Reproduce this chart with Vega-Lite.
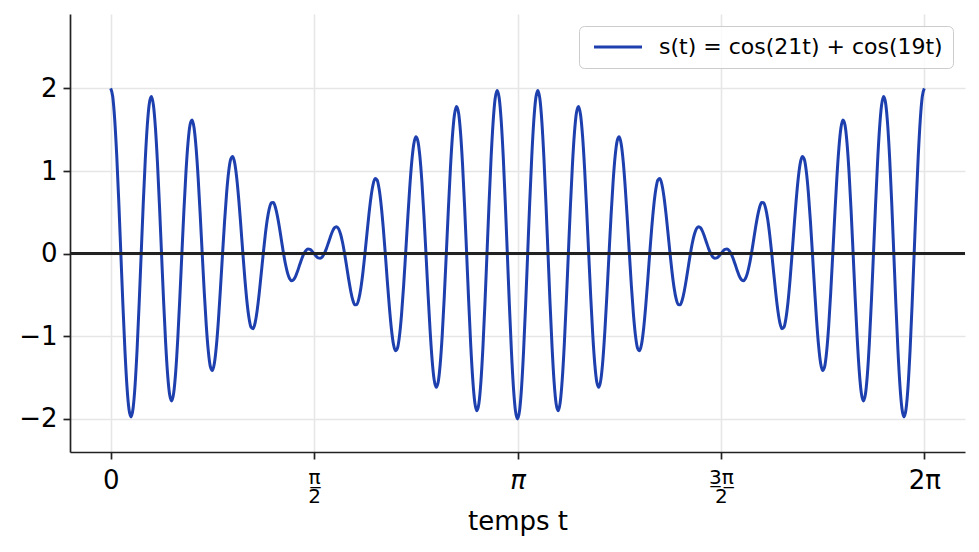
{
  "$schema": "https://vega.github.io/schema/vega-lite/v6.json",
  "description": "s(t) = cos(21t) + cos(19t) over one period, t stored in multiples of pi",
  "width": 895,
  "height": 438,
  "autosize": {"type": "none"},
  "padding": {"left": 70, "top": 14, "right": 14, "bottom": 100},
  "background": "white",
  "config": {
    "view": {"stroke": null},
    "font": "DejaVu Sans",
    "axis": {
      "domainColor": "#222222",
      "domainWidth": 1.7,
      "tickColor": "#222222",
      "tickWidth": 1.7,
      "tickSize": 7,
      "gridColor": "#e6e6e6",
      "gridWidth": 1.6,
      "labelFont": "DejaVu Sans",
      "labelColor": "#000000",
      "labelFontSize": 26,
      "titleFont": "DejaVu Sans",
      "titleFontSize": 26,
      "titleFontWeight": "normal",
      "titleColor": "#000000"
    }
  },
  "data": {
    "values": [
      {"tpi":0,"s":2},{"tpi":0.005,"s":1.902},{"tpi":0.01,"s":1.617},{"tpi":0.015,"s":1.174},{"tpi":0.02,"s":0.617},
      {"tpi":0.025,"s":0},{"tpi":0.03,"s":-0.615},{"tpi":0.035,"s":-1.168},{"tpi":0.04,"s":-1.605},{"tpi":0.045,"s":-1.883},
      {"tpi":0.05,"s":-1.975},{"tpi":0.055,"s":-1.874},{"tpi":0.06,"s":-1.589},{"tpi":0.065,"s":-1.151},{"tpi":0.07,"s":-0.603},
      {"tpi":0.075,"s":0},{"tpi":0.08,"s":0.599},{"tpi":0.085,"s":1.134},{"tpi":0.09,"s":1.554},{"tpi":0.095,"s":1.818},
      {"tpi":0.1,"s":1.902},{"tpi":0.105,"s":1.8},{"tpi":0.11,"s":1.522},{"tpi":0.115,"s":1.1},{"tpi":0.12,"s":0.575},
      {"tpi":0.125,"s":0},{"tpi":0.13,"s":-0.567},{"tpi":0.135,"s":-1.071},{"tpi":0.14,"s":-1.464},{"tpi":0.145,"s":-1.708},
      {"tpi":0.15,"s":-1.782},{"tpi":0.155,"s":-1.681},{"tpi":0.16,"s":-1.418},{"tpi":0.165,"s":-1.021},{"tpi":0.17,"s":-0.532},
      {"tpi":0.175,"s":0},{"tpi":0.18,"s":0.522},{"tpi":0.185,"s":0.983},{"tpi":0.19,"s":1.338},{"tpi":0.195,"s":1.556},
      {"tpi":0.2,"s":1.618},{"tpi":0.205,"s":1.521},{"tpi":0.21,"s":1.278},{"tpi":0.215,"s":0.917},{"tpi":0.22,"s":0.476},
      {"tpi":0.225,"s":0},{"tpi":0.23,"s":-0.464},{"tpi":0.235,"s":-0.87},{"tpi":0.24,"s":-1.179},{"tpi":0.245,"s":-1.366},
      {"tpi":0.25,"s":-1.414},{"tpi":0.255,"s":-1.324},{"tpi":0.26,"s":-1.108},{"tpi":0.265,"s":-0.791},{"tpi":0.27,"s":-0.409},
      {"tpi":0.275,"s":0},{"tpi":0.28,"s":0.394},{"tpi":0.285,"s":0.735},{"tpi":0.29,"s":0.992},{"tpi":0.295,"s":1.142},
      {"tpi":0.3,"s":1.176},{"tpi":0.305,"s":1.094},{"tpi":0.31,"s":0.909},{"tpi":0.315,"s":0.645},{"tpi":0.32,"s":0.331},
      {"tpi":0.325,"s":0},{"tpi":0.33,"s":-0.315},{"tpi":0.335,"s":-0.582},{"tpi":0.34,"s":-0.779},{"tpi":0.345,"s":-0.89},
      {"tpi":0.35,"s":-0.908},{"tpi":0.355,"s":-0.837},{"tpi":0.36,"s":-0.689},{"tpi":0.365,"s":-0.484},{"tpi":0.37,"s":-0.245},
      {"tpi":0.375,"s":0},{"tpi":0.38,"s":0.228},{"tpi":0.385,"s":0.416},{"tpi":0.39,"s":0.548},{"tpi":0.395,"s":0.616},
      {"tpi":0.4,"s":0.618},{"tpi":0.405,"s":0.559},{"tpi":0.41,"s":0.451},{"tpi":0.415,"s":0.31},{"tpi":0.42,"s":0.154},
      {"tpi":0.425,"s":0},{"tpi":0.43,"s":-0.135},{"tpi":0.435,"s":-0.238},{"tpi":0.44,"s":-0.303},{"tpi":0.445,"s":-0.327},
      {"tpi":0.45,"s":-0.313},{"tpi":0.455,"s":-0.268},{"tpi":0.46,"s":-0.203},{"tpi":0.465,"s":-0.129},{"tpi":0.47,"s":-0.058},
      {"tpi":0.475,"s":0},{"tpi":0.48,"s":0.039},{"tpi":0.485,"s":0.055},{"tpi":0.49,"s":0.051},{"tpi":0.495,"s":0.03},
      {"tpi":0.5,"s":0},{"tpi":0.505,"s":-0.03},{"tpi":0.51,"s":-0.051},{"tpi":0.515,"s":-0.055},{"tpi":0.52,"s":-0.039},
      {"tpi":0.525,"s":0},{"tpi":0.53,"s":0.058},{"tpi":0.535,"s":0.129},{"tpi":0.54,"s":0.203},{"tpi":0.545,"s":0.268},
      {"tpi":0.55,"s":0.313},{"tpi":0.555,"s":0.327},{"tpi":0.56,"s":0.303},{"tpi":0.565,"s":0.238},{"tpi":0.57,"s":0.135},
      {"tpi":0.575,"s":0},{"tpi":0.58,"s":-0.154},{"tpi":0.585,"s":-0.31},{"tpi":0.59,"s":-0.451},{"tpi":0.595,"s":-0.559},
      {"tpi":0.6,"s":-0.618},{"tpi":0.605,"s":-0.616},{"tpi":0.61,"s":-0.548},{"tpi":0.615,"s":-0.416},{"tpi":0.62,"s":-0.228},
      {"tpi":0.625,"s":0},{"tpi":0.63,"s":0.245},{"tpi":0.635,"s":0.484},{"tpi":0.64,"s":0.689},{"tpi":0.645,"s":0.837},
      {"tpi":0.65,"s":0.908},{"tpi":0.655,"s":0.89},{"tpi":0.66,"s":0.779},{"tpi":0.665,"s":0.582},{"tpi":0.67,"s":0.315},
      {"tpi":0.675,"s":0},{"tpi":0.68,"s":-0.331},{"tpi":0.685,"s":-0.645},{"tpi":0.69,"s":-0.909},{"tpi":0.695,"s":-1.094},
      {"tpi":0.7,"s":-1.176},{"tpi":0.705,"s":-1.142},{"tpi":0.71,"s":-0.992},{"tpi":0.715,"s":-0.735},{"tpi":0.72,"s":-0.394},
      {"tpi":0.725,"s":0},{"tpi":0.73,"s":0.409},{"tpi":0.735,"s":0.791},{"tpi":0.74,"s":1.108},{"tpi":0.745,"s":1.324},
      {"tpi":0.75,"s":1.414},{"tpi":0.755,"s":1.366},{"tpi":0.76,"s":1.179},{"tpi":0.765,"s":0.87},{"tpi":0.77,"s":0.464},
      {"tpi":0.775,"s":0},{"tpi":0.78,"s":-0.476},{"tpi":0.785,"s":-0.917},{"tpi":0.79,"s":-1.278},{"tpi":0.795,"s":-1.521},
      {"tpi":0.8,"s":-1.618},{"tpi":0.805,"s":-1.556},{"tpi":0.81,"s":-1.338},{"tpi":0.815,"s":-0.983},{"tpi":0.82,"s":-0.522},
      {"tpi":0.825,"s":0},{"tpi":0.83,"s":0.532},{"tpi":0.835,"s":1.021},{"tpi":0.84,"s":1.418},{"tpi":0.845,"s":1.681},
      {"tpi":0.85,"s":1.782},{"tpi":0.855,"s":1.708},{"tpi":0.86,"s":1.464},{"tpi":0.865,"s":1.071},{"tpi":0.87,"s":0.567},
      {"tpi":0.875,"s":0},{"tpi":0.88,"s":-0.575},{"tpi":0.885,"s":-1.1},{"tpi":0.89,"s":-1.522},{"tpi":0.895,"s":-1.8},
      {"tpi":0.9,"s":-1.902},{"tpi":0.905,"s":-1.818},{"tpi":0.91,"s":-1.554},{"tpi":0.915,"s":-1.134},{"tpi":0.92,"s":-0.599},
      {"tpi":0.925,"s":0},{"tpi":0.93,"s":0.603},{"tpi":0.935,"s":1.151},{"tpi":0.94,"s":1.589},{"tpi":0.945,"s":1.874},
      {"tpi":0.95,"s":1.975},{"tpi":0.955,"s":1.883},{"tpi":0.96,"s":1.605},{"tpi":0.965,"s":1.168},{"tpi":0.97,"s":0.615},
      {"tpi":0.975,"s":0},{"tpi":0.98,"s":-0.617},{"tpi":0.985,"s":-1.174},{"tpi":0.99,"s":-1.617},{"tpi":0.995,"s":-1.902},
      {"tpi":1,"s":-2},{"tpi":1.005,"s":-1.902},{"tpi":1.01,"s":-1.617},{"tpi":1.015,"s":-1.174},{"tpi":1.02,"s":-0.617},
      {"tpi":1.025,"s":0},{"tpi":1.03,"s":0.615},{"tpi":1.035,"s":1.168},{"tpi":1.04,"s":1.605},{"tpi":1.045,"s":1.883},
      {"tpi":1.05,"s":1.975},{"tpi":1.055,"s":1.874},{"tpi":1.06,"s":1.589},{"tpi":1.065,"s":1.151},{"tpi":1.07,"s":0.603},
      {"tpi":1.075,"s":0},{"tpi":1.08,"s":-0.599},{"tpi":1.085,"s":-1.134},{"tpi":1.09,"s":-1.554},{"tpi":1.095,"s":-1.818},
      {"tpi":1.1,"s":-1.902},{"tpi":1.105,"s":-1.8},{"tpi":1.11,"s":-1.522},{"tpi":1.115,"s":-1.1},{"tpi":1.12,"s":-0.575},
      {"tpi":1.125,"s":0},{"tpi":1.13,"s":0.567},{"tpi":1.135,"s":1.071},{"tpi":1.14,"s":1.464},{"tpi":1.145,"s":1.708},
      {"tpi":1.15,"s":1.782},{"tpi":1.155,"s":1.681},{"tpi":1.16,"s":1.418},{"tpi":1.165,"s":1.021},{"tpi":1.17,"s":0.532},
      {"tpi":1.175,"s":0},{"tpi":1.18,"s":-0.522},{"tpi":1.185,"s":-0.983},{"tpi":1.19,"s":-1.338},{"tpi":1.195,"s":-1.556},
      {"tpi":1.2,"s":-1.618},{"tpi":1.205,"s":-1.521},{"tpi":1.21,"s":-1.278},{"tpi":1.215,"s":-0.917},{"tpi":1.22,"s":-0.476},
      {"tpi":1.225,"s":0},{"tpi":1.23,"s":0.464},{"tpi":1.235,"s":0.87},{"tpi":1.24,"s":1.179},{"tpi":1.245,"s":1.366},
      {"tpi":1.25,"s":1.414},{"tpi":1.255,"s":1.324},{"tpi":1.26,"s":1.108},{"tpi":1.265,"s":0.791},{"tpi":1.27,"s":0.409},
      {"tpi":1.275,"s":0},{"tpi":1.28,"s":-0.394},{"tpi":1.285,"s":-0.735},{"tpi":1.29,"s":-0.992},{"tpi":1.295,"s":-1.142},
      {"tpi":1.3,"s":-1.176},{"tpi":1.305,"s":-1.094},{"tpi":1.31,"s":-0.909},{"tpi":1.315,"s":-0.645},{"tpi":1.32,"s":-0.331},
      {"tpi":1.325,"s":0},{"tpi":1.33,"s":0.315},{"tpi":1.335,"s":0.582},{"tpi":1.34,"s":0.779},{"tpi":1.345,"s":0.89},
      {"tpi":1.35,"s":0.908},{"tpi":1.355,"s":0.837},{"tpi":1.36,"s":0.689},{"tpi":1.365,"s":0.484},{"tpi":1.37,"s":0.245},
      {"tpi":1.375,"s":0},{"tpi":1.38,"s":-0.228},{"tpi":1.385,"s":-0.416},{"tpi":1.39,"s":-0.548},{"tpi":1.395,"s":-0.616},
      {"tpi":1.4,"s":-0.618},{"tpi":1.405,"s":-0.559},{"tpi":1.41,"s":-0.451},{"tpi":1.415,"s":-0.31},{"tpi":1.42,"s":-0.154},
      {"tpi":1.425,"s":0},{"tpi":1.43,"s":0.135},{"tpi":1.435,"s":0.238},{"tpi":1.44,"s":0.303},{"tpi":1.445,"s":0.327},
      {"tpi":1.45,"s":0.313},{"tpi":1.455,"s":0.268},{"tpi":1.46,"s":0.203},{"tpi":1.465,"s":0.129},{"tpi":1.47,"s":0.058},
      {"tpi":1.475,"s":0},{"tpi":1.48,"s":-0.039},{"tpi":1.485,"s":-0.055},{"tpi":1.49,"s":-0.051},{"tpi":1.495,"s":-0.03},
      {"tpi":1.5,"s":0},{"tpi":1.505,"s":0.03},{"tpi":1.51,"s":0.051},{"tpi":1.515,"s":0.055},{"tpi":1.52,"s":0.039},
      {"tpi":1.525,"s":0},{"tpi":1.53,"s":-0.058},{"tpi":1.535,"s":-0.129},{"tpi":1.54,"s":-0.203},{"tpi":1.545,"s":-0.268},
      {"tpi":1.55,"s":-0.313},{"tpi":1.555,"s":-0.327},{"tpi":1.56,"s":-0.303},{"tpi":1.565,"s":-0.238},{"tpi":1.57,"s":-0.135},
      {"tpi":1.575,"s":0},{"tpi":1.58,"s":0.154},{"tpi":1.585,"s":0.31},{"tpi":1.59,"s":0.451},{"tpi":1.595,"s":0.559},
      {"tpi":1.6,"s":0.618},{"tpi":1.605,"s":0.616},{"tpi":1.61,"s":0.548},{"tpi":1.615,"s":0.416},{"tpi":1.62,"s":0.228},
      {"tpi":1.625,"s":0},{"tpi":1.63,"s":-0.245},{"tpi":1.635,"s":-0.484},{"tpi":1.64,"s":-0.689},{"tpi":1.645,"s":-0.837},
      {"tpi":1.65,"s":-0.908},{"tpi":1.655,"s":-0.89},{"tpi":1.66,"s":-0.779},{"tpi":1.665,"s":-0.582},{"tpi":1.67,"s":-0.315},
      {"tpi":1.675,"s":0},{"tpi":1.68,"s":0.331},{"tpi":1.685,"s":0.645},{"tpi":1.69,"s":0.909},{"tpi":1.695,"s":1.094},
      {"tpi":1.7,"s":1.176},{"tpi":1.705,"s":1.142},{"tpi":1.71,"s":0.992},{"tpi":1.715,"s":0.735},{"tpi":1.72,"s":0.394},
      {"tpi":1.725,"s":0},{"tpi":1.73,"s":-0.409},{"tpi":1.735,"s":-0.791},{"tpi":1.74,"s":-1.108},{"tpi":1.745,"s":-1.324},
      {"tpi":1.75,"s":-1.414},{"tpi":1.755,"s":-1.366},{"tpi":1.76,"s":-1.179},{"tpi":1.765,"s":-0.87},{"tpi":1.77,"s":-0.464},
      {"tpi":1.775,"s":0},{"tpi":1.78,"s":0.476},{"tpi":1.785,"s":0.917},{"tpi":1.79,"s":1.278},{"tpi":1.795,"s":1.521},
      {"tpi":1.8,"s":1.618},{"tpi":1.805,"s":1.556},{"tpi":1.81,"s":1.338},{"tpi":1.815,"s":0.983},{"tpi":1.82,"s":0.522},
      {"tpi":1.825,"s":0},{"tpi":1.83,"s":-0.532},{"tpi":1.835,"s":-1.021},{"tpi":1.84,"s":-1.418},{"tpi":1.845,"s":-1.681},
      {"tpi":1.85,"s":-1.782},{"tpi":1.855,"s":-1.708},{"tpi":1.86,"s":-1.464},{"tpi":1.865,"s":-1.071},{"tpi":1.87,"s":-0.567},
      {"tpi":1.875,"s":0},{"tpi":1.88,"s":0.575},{"tpi":1.885,"s":1.1},{"tpi":1.89,"s":1.522},{"tpi":1.895,"s":1.8},
      {"tpi":1.9,"s":1.902},{"tpi":1.905,"s":1.818},{"tpi":1.91,"s":1.554},{"tpi":1.915,"s":1.134},{"tpi":1.92,"s":0.599},
      {"tpi":1.925,"s":0},{"tpi":1.93,"s":-0.603},{"tpi":1.935,"s":-1.151},{"tpi":1.94,"s":-1.589},{"tpi":1.945,"s":-1.874},
      {"tpi":1.95,"s":-1.975},{"tpi":1.955,"s":-1.883},{"tpi":1.96,"s":-1.605},{"tpi":1.965,"s":-1.168},{"tpi":1.97,"s":-0.615},
      {"tpi":1.975,"s":0},{"tpi":1.98,"s":0.617},{"tpi":1.985,"s":1.174},{"tpi":1.99,"s":1.617},{"tpi":1.995,"s":1.902},
      {"tpi":2,"s":2}
    ]
  },
  "layer": [
    {
      "mark": {"type": "line", "interpolate": "monotone", "strokeWidth": 3},
      "encoding": {
        "x": {
          "field": "tpi",
          "type": "quantitative",
          "title": "temps t",
          "scale": {"domain": [-0.1, 2.1], "nice": false, "zero": false},
          "axis": {
            "values": [0, 0.5, 1, 1.5, 2],
            "grid": true,
            "labelPadding": 8,
            "labelFlush": false,
            "labelOverlap": false,
            "labelLineHeight": 19,
            "labelExpr": "datum.value == 0 ? '0' : datum.value == 0.5 ? ['\u03c0\u0332', '2'] : datum.value == 1 ? '\u03c0' : datum.value == 1.5 ? ['3\u0332\u03c0\u0332', '2'] : '2\u03c0'",
            "labelFontSize": {"condition": {"test": "datum.value == 0.5 || datum.value == 1.5", "value": 20}, "value": 26},
            "labelFontStyle": {"condition": {"test": "datum.value == 1", "value": "italic"}, "value": "normal"},
            "titleY": 77,
            "titleBaseline": "alphabetic"
          }
        },
        "y": {
          "field": "s",
          "type": "quantitative",
          "title": null,
          "scale": {"domain": [-2.4, 2.9], "nice": false, "zero": false},
          "axis": {"values": [-2, -1, 0, 1, 2], "format": "d", "grid": true, "labelPadding": 6}
        },
        "color": {
          "datum": "s(t) = cos(21t) + cos(19t)",
          "type": "nominal",
          "scale": {"range": ["#1e40af"]},
          "legend": {
            "title": null,
            "orient": "top-right",
            "offset": 12,
            "padding": 10,
            "fillColor": "rgba(255,255,255,0.8)",
            "strokeColor": "#cccccc",
            "cornerRadius": 5,
            "symbolType": "M-1,0H7",
            "symbolSize": 144,
            "symbolStrokeWidth": 3,
            "labelFont": "DejaVu Sans",
            "labelFontSize": 22,
            "labelColor": "#000000",
            "labelOffset": 48,
            "labelLimit": 500
          }
        }
      }
    },
    {
      "mark": {"type": "rule", "color": "#222222", "strokeWidth": 1.6},
      "encoding": {"y": {"datum": 0}}
    }
  ]
}
